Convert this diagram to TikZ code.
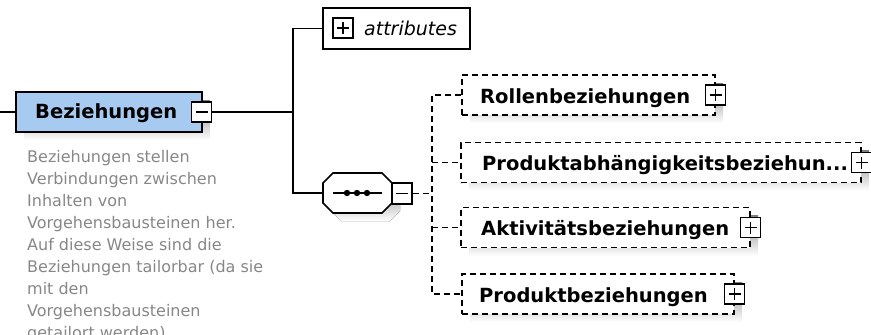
\documentclass[tikz,border=0pt]{standalone}
\usepackage{fontspec}
\setmainfont{DejaVu Sans}
\definecolor{elemblue}{RGB}{166,202,240}
\definecolor{shade}{RGB}{188,188,188}
\definecolor{desc}{RGB}{135,135,135}
\begin{document}
\begin{tikzpicture}[x=1pt,y=-1pt,
 conn/.style={line width=1.6pt, draw=black},
 dconn/.style={line width=1.5pt, draw=black, dash pattern=on 6pt off 4pt},
 ebox/.style={draw, line width=1.6pt, inner sep=0pt, minimum height=40pt},
 cbox/.style={draw, fill=white, line width=1.5pt, dash pattern=on 6pt off 4pt, inner sep=0pt, minimum height=40pt},
 sgn/.style={draw, fill=white, line width=1.4pt, inner sep=0pt, minimum width=20pt, minimum height=20pt},
 plusbox/.style={sgn, path picture={\draw[line width=1.4pt] ([xshift=-6pt]path picture bounding box.center) -- ([xshift=6pt]path picture bounding box.center) ([yshift=-6pt]path picture bounding box.center) -- ([yshift=6pt]path picture bounding box.center);}},
 minusbox/.style={sgn, path picture={\draw[line width=1.4pt] ([xshift=-6pt]path picture bounding box.center) -- ([xshift=6pt]path picture bounding box.center);}},
 lbl/.style={anchor=base west, inner sep=0pt, font=\bfseries\fontsize{19.5}{22}\selectfont},
 dtext/.style={anchor=base west, inner sep=0pt, text=desc, font=\fontsize{16}{22}\selectfont},
]
\clip (0,0) rectangle (871,335);
% shadows
\fill[shade] (24,100) rectangle (210,140);
\fill[shade] (331,191) -- (341,181) -- (390,181) -- (400,191) -- (400,211) -- (390,221) -- (341,221) -- (331,211) -- cycle;
\fill[shade] (470,83) rectangle (723,123);
\fill[shade] (469,150.5) rectangle (869,190.5);
\fill[shade] (469,215.5) rectangle (758,255.5);
\fill[shade] (470,282) rectangle (742,322);

% named points
\coordinate (lin) at (0,112);
\coordinate (spT) at (293,28.5);
\coordinate (spB) at (293,193);
\coordinate (bus) at (432,193.5);

% nodes (boxes)
\node[ebox, fill=elemblue, minimum width=186pt] (main) at (109,112) {};
\node[ebox, fill=white, minimum width=147pt, minimum height=41pt] (attr) at (396.5,28.5) {};
\node[minimum width=69pt, minimum height=40pt, inner sep=0pt] (seq) at (357.5,193) {};
\node[cbox, minimum width=253pt] (c1) at (588.5,95) {};
\node[cbox, minimum width=400pt] (c2) at (661,162.5) {};
\node[cbox, minimum width=289pt] (c3) at (605.5,227.5) {};
\node[cbox, minimum width=272pt] (c4) at (598,294) {};

% connectors
\draw[conn] (lin) -- (main.west);
\draw[conn] (attr.west) -- (spT) -- (spB) -- (seq.west);
\draw[dconn] (c1.west) -- (c1.west -| bus) -- (c4.west -| bus) -- (c4.west);
\draw[dconn] (c2.west -| bus) -- (c2.west);
\draw[dconn] (c3.west -| bus) -- (c3.west);

% sequence compositor
\draw[conn, fill=white] (323,183) -- (333,173) -- (382,173) -- (392,183) -- (392,203) -- (382,213) -- (333,213) -- (323,203) -- cycle;
\draw[conn] (333,193) -- (382,193);
\foreach \x in {347,357,367} \fill (\x,193) circle[radius=3.2pt];

% expand / collapse boxes
\node[minusbox] (mminus) at (201.5,112) {};
\draw[conn] (mminus.east) -- (mminus.east -| spT);
\node[plusbox] (aplus) at (343,28) {};
\node[minusbox, minimum height=21pt] (sminus) at (402,193.5) {};
\draw[dconn] (sminus.east) -- (sminus.east -| bus);
\node[plusbox] (c1p) at (c1.east) {};
\node[plusbox] (c2p) at (c2.east) {};
\node[plusbox] (c3p) at (c3.east) {};
\node[plusbox] (c4p) at (c4.east) {};

% labels
\node[lbl] (mainlbl) at (35,118) {Beziehungen};
\node[anchor=base west, inner sep=0pt, font=\itshape\fontsize{19}{22}\selectfont] (atxt) at (364,35) {attributes};
\node[lbl] (l1) at (480,103) {Rollenbeziehungen};
\node[lbl] (l2) at (482,170.5) {Produktabhängigkeitsbeziehun...};
\node[lbl] (l3) at (481,235.5) {Aktivitätsbeziehungen};
\node[lbl] (l4) at (479,302) {Produktbeziehungen};

% documentation
\node[dtext] (d1) at (27,162) {Beziehungen stellen};
\node[dtext] (d2) at (27,184) {Verbindungen zwischen};
\node[dtext] (d3) at (27,206) {Inhalten von};
\node[dtext] (d4) at (27,228) {Vorgehensbausteinen her.};
\node[dtext] (d5) at (27,250) {Auf diese Weise sind die};
\node[dtext] (d6) at (27,272) {Beziehungen tailorbar (da sie};
\node[dtext] (d7) at (27,294) {mit den};
\node[dtext] (d8) at (27,316) {Vorgehensbausteinen};
\node[dtext] (d9) at (27,338) {getailort werden)};
\end{tikzpicture}
\end{document}
